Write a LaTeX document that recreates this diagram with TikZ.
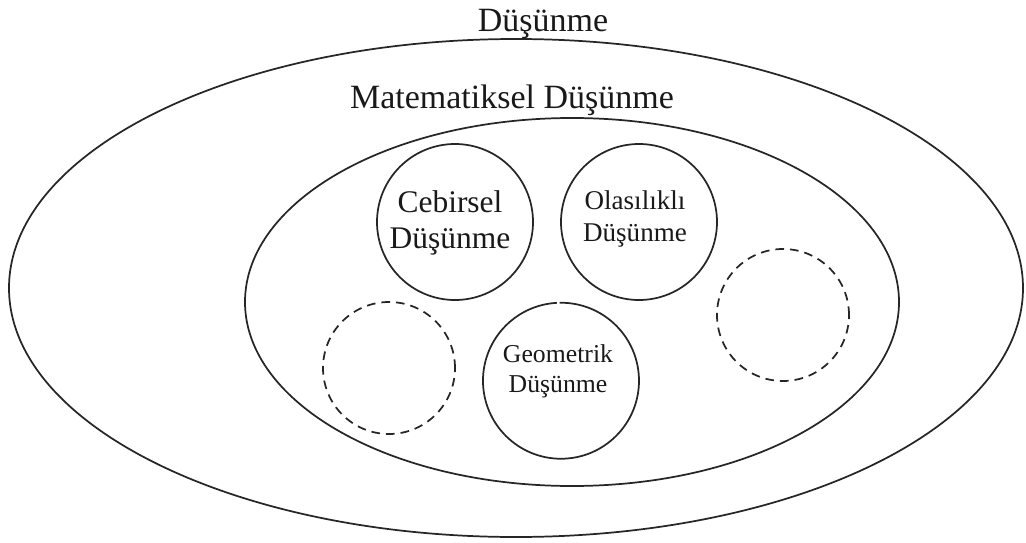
\documentclass[tikz,border=0pt]{standalone}
\usepackage{fontspec}
\setmainfont{Liberation Serif}
\usetikzlibrary{shapes.geometric}
\begin{document}
\begin{tikzpicture}[x=0.75pt,y=-0.75pt,
  line/.style={line width=1.3pt, draw=black!85},
  bigell/.style={line, ellipse, inner sep=0pt},
  ring/.style={line, circle, minimum size=117pt, inner sep=0pt},
  dring/.style={line, circle, dash pattern=on 6.5pt off 4.5pt, minimum size=99pt, inner sep=0pt},
  lbl/.style={align=center, inner sep=0pt, text=black!90}]
\useasboundingbox (0,0) rectangle (1026,543);
% containers
\node[bigell, minimum width=760.5pt, minimum height=373.5pt] (outer) at (516,288) {};
\node[bigell, minimum width=490.5pt, minimum height=276pt] (inner) at (572,302) {};
% labels of containers
\node[lbl, anchor=base, font=\fontsize{25.5}{30}\selectfont] (tDus) at (543,31) {Düşünme};
\node[lbl, anchor=base, font=\fontsize{25.5}{30}\selectfont] (tMat) at (512,108) {Matematiksel Düşünme};
% circles
\node[ring] (ceb) at (455,222) {};
\node[ring] (ola) at (639,222) {};
\node[circle, minimum size=117pt, inner sep=0pt] (geo) at (561,381) {};
\draw[line] (geo.93) arc[start angle=93, end angle=451, radius=58.5pt];
\node[dring] (dl) at (389,368) {};
\node[dring] (dr) at (783,315) {};
% circle texts
\node[lbl, font=\fontsize{23.6}{27}\selectfont] (tCeb) at (450,222.6) {Cebirsel\\Düşünme};
\node[lbl, font=\fontsize{20.3}{24}\selectfont] (tOla) at (635,218.7) {Olasılıklı\\Düşünme};
\node[lbl, font=\fontsize{19.3}{22.5}\selectfont] (tGeo) at (558,371.8) {Geometrik\\Düşünme};
\end{tikzpicture}
\end{document}
